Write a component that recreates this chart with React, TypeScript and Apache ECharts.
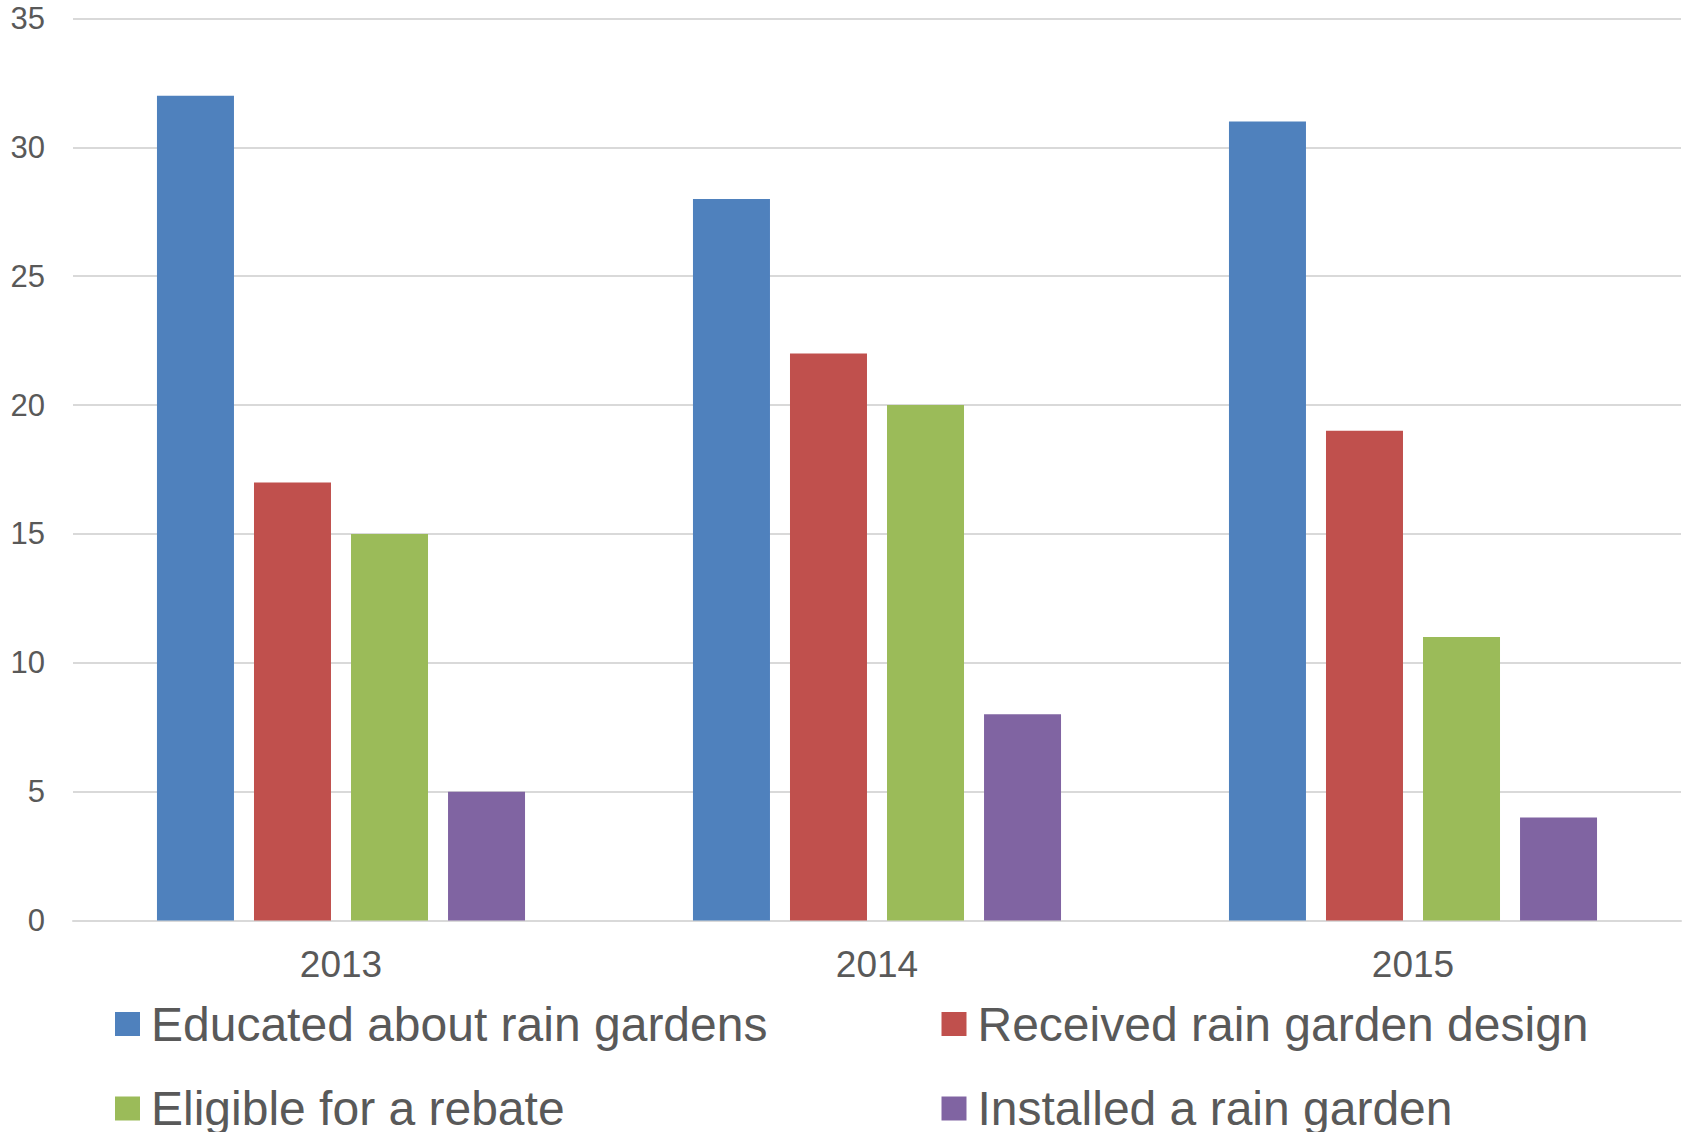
import React, { useEffect, useRef } from "react";
import * as echarts from "echarts";

const categories = ["2013", "2014", "2015"];
const seriesNames = [
  "Educated about rain gardens",
  "Received rain garden design",
  "Eligible for a rebate",
  "Installed a rain garden",
];
const educated = [32, 28, 31];
const received = [17, 22, 19];
const eligible = [15, 20, 11];
const installed = [5, 8, 4];
const colors = ["#4F81BD", "#C0504D", "#9BBB59", "#8064A2"];

const FONT = "'Liberation Sans', Arial, Helvetica, sans-serif";

export default function App() {
  const ref = useRef<HTMLDivElement>(null);
  useEffect(() => {
    if (!ref.current) return;
    const chart = echarts.init(ref.current, null, { renderer: "svg" });
    const values = [educated, received, eligible, installed];
    const legendPos = [
      { left: 115, top: 996 },
      { left: 941.5, top: 996 },
      { left: 115, top: 1080.5 },
      { left: 941.5, top: 1080.5 },
    ];
    chart.setOption({
      animation: false,
      backgroundColor: "#FFFFFF",
      textStyle: { fontFamily: FONT },
      grid: { left: 73, right: 5, top: 18.5, bottom: 211.5, containLabel: false },
      xAxis: {
        type: "category",
        data: categories,
        axisLine: { show: true, lineStyle: { color: "#D9D9D9", width: 2 } },
        axisTick: { show: false },
        axisLabel: {
          color: "#595959",
          fontSize: 37,
          fontFamily: FONT,
          margin: 25,
        },
      },
      yAxis: {
        type: "value",
        min: 0,
        max: 35,
        interval: 5,
        axisLine: { show: false },
        axisTick: { show: false },
        splitLine: { show: true, lineStyle: { color: "#D9D9D9", width: 2 } },
        axisLabel: {
          color: "#595959",
          fontSize: 31,
          fontFamily: FONT,
          margin: 28,
        },
      },
      legend: seriesNames.map((name, i) => ({
        data: [name],
        left: legendPos[i].left,
        top: legendPos[i].top,
        orient: "horizontal",
        padding: 0,
        icon: "rect",
        itemWidth: 25,
        itemHeight: 24,
        selectedMode: false,
        textStyle: {
          color: "#595959",
          fontSize: 48,
          fontFamily: FONT,
          lineHeight: 56,
          padding: [0, 0, 0, 6],
        },
      })),
      series: seriesNames.map((name, i) => ({
        name,
        type: "bar",
        data: values[i],
        barWidth: 77,
        barGap: "26%",
        itemStyle: { color: colors[i] },
      })),
    });
    return () => chart.dispose();
  }, []);
  return (
    <div
      ref={ref}
      style={{ position: "fixed", left: 0, top: 0, width: 1686, height: 1132 }}
    />
  );
}
